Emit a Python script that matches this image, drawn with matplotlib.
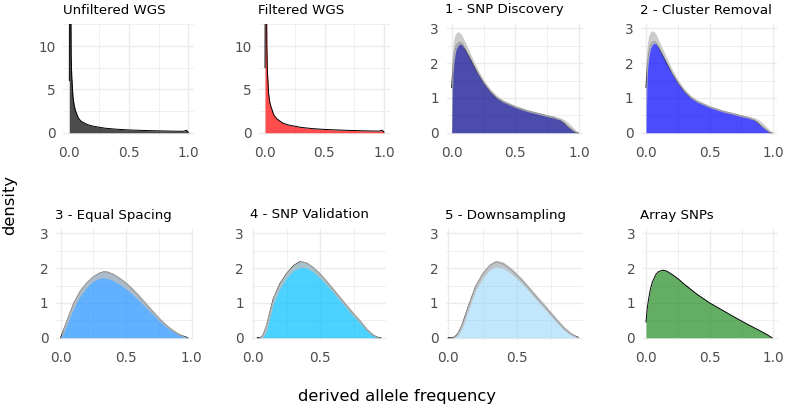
import matplotlib
matplotlib.use("Agg")
import matplotlib.pyplot as plt
import numpy as np

W, H = 787, 412

# ---- data (density curves) ----
x_wgs = [0, 0.003, 0.006, 0.01, 0.015, 0.02, 0.03, 0.04, 0.05, 0.075, 0.1, 0.15, 0.2,
         0.3, 0.4, 0.5, 0.6, 0.7, 0.8, 0.9, 0.95, 0.97, 0.98, 0.99, 1.0]
unfiltered = [6, 30, 40, 20, 9, 6.5, 4.2, 3.2, 2.6, 1.7, 1.3, 0.95, 0.75,
              0.52, 0.4, 0.32, 0.27, 0.23, 0.2, 0.17, 0.16, 0.2, 0.28, 0.22, 0.05]
filtered = [7.5, 32, 42, 22, 10, 7.0, 4.5, 3.5, 3.0, 2.0, 1.6, 1.1, 0.88,
            0.62, 0.47, 0.38, 0.32, 0.27, 0.23, 0.2, 0.18, 0.22, 0.3, 0.24, 0.06]

x_disc = [0, 0.01, 0.02, 0.035, 0.05, 0.065, 0.08, 0.1, 0.15, 0.2, 0.25, 0.3, 0.35, 0.4,
          0.5, 0.6, 0.7, 0.75, 0.8, 0.85, 0.88, 0.9, 0.93, 0.96, 0.98, 0.99]
discovery = [1.3, 1.9, 2.25, 2.5, 2.58, 2.6, 2.57, 2.45, 2.1, 1.75, 1.45, 1.2, 1.02, 0.9,
             0.74, 0.62, 0.53, 0.48, 0.44, 0.37, 0.29, 0.22, 0.13, 0.04, 0.0, 0.0]
discovery_lo = [0, 1.7, 2.1, 2.4, 2.5, 2.55, 2.52, 2.42, 2.08, 1.72, 1.42, 1.18, 1.0, 0.88,
                0.72, 0.6, 0.51, 0.46, 0.42, 0.36, 0.28, 0.2, 0.11, 0.03, 0.0, 0.0]
discovery_hi = [2.0, 2.5, 2.75, 2.87, 2.9, 2.87, 2.8, 2.65, 2.25, 1.85, 1.52, 1.27, 1.08, 0.95,
                0.78, 0.66, 0.56, 0.51, 0.48, 0.43, 0.38, 0.33, 0.23, 0.12, 0.05, 0.0]
cluster = [1.3, 1.92, 2.27, 2.52, 2.6, 2.62, 2.58, 2.46, 2.1, 1.75, 1.45, 1.2, 1.02, 0.9,
           0.74, 0.62, 0.53, 0.48, 0.44, 0.37, 0.29, 0.22, 0.13, 0.04, 0.0, 0.0]
cluster_lo = [0, 1.7, 2.1, 2.42, 2.52, 2.57, 2.54, 2.43, 2.08, 1.72, 1.42, 1.18, 1.0, 0.88,
              0.72, 0.6, 0.51, 0.46, 0.42, 0.36, 0.28, 0.2, 0.11, 0.03, 0.0, 0.0]
cluster_hi = [2.0, 2.52, 2.78, 2.9, 2.93, 2.9, 2.82, 2.66, 2.26, 1.86, 1.53, 1.27, 1.08, 0.95,
              0.78, 0.66, 0.56, 0.51, 0.48, 0.43, 0.38, 0.33, 0.23, 0.12, 0.05, 0.0]

x_equal = [0, 0.02, 0.05, 0.1, 0.15, 0.2, 0.25, 0.3, 0.33, 0.36, 0.4, 0.45, 0.5, 0.55,
           0.6, 0.65, 0.7, 0.75, 0.8, 0.85, 0.9, 0.93, 0.95, 0.97]
equal = [0, 0.2, 0.5, 0.99, 1.34, 1.57, 1.75, 1.86, 1.89, 1.88, 1.82, 1.7, 1.56, 1.38,
         1.18, 0.97, 0.76, 0.55, 0.37, 0.22, 0.1, 0.05, 0.03, 0.0]
equal_lo = [0, 0.12, 0.4, 0.85, 1.2, 1.45, 1.63, 1.71, 1.72, 1.7, 1.64, 1.53, 1.4, 1.24,
            1.06, 0.87, 0.68, 0.49, 0.32, 0.19, 0.08, 0.03, 0.01, 0.0]
equal_hi = [0.02, 0.3, 0.62, 1.08, 1.42, 1.64, 1.8, 1.9, 1.92, 1.91, 1.85, 1.74, 1.6, 1.43,
            1.23, 1.02, 0.81, 0.6, 0.41, 0.26, 0.13, 0.07, 0.04, 0.01]

x_valid = [0.03, 0.05, 0.07, 0.1, 0.125, 0.15, 0.2, 0.25, 0.3, 0.35, 0.4, 0.45, 0.5, 0.55,
           0.6, 0.65, 0.7, 0.75, 0.8, 0.85, 0.88, 0.9, 0.93, 0.95]
validation = [0, 0.0, 0.05, 0.35, 0.75, 1.13, 1.56, 1.85, 2.07, 2.19, 2.14, 2.0, 1.82, 1.6,
              1.37, 1.13, 0.9, 0.67, 0.46, 0.22, 0.12, 0.06, 0.01, 0]
validation_lo = [0, 0, 0.0, 0.2, 0.6, 0.98, 1.42, 1.72, 1.93, 2.02, 2.0, 1.88, 1.7, 1.5,
                 1.28, 1.05, 0.82, 0.6, 0.4, 0.18, 0.09, 0.04, 0.0, 0]
validation_hi = [0, 0.03, 0.15, 0.5, 0.88, 1.22, 1.62, 1.9, 2.1, 2.22, 2.18, 2.04, 1.86, 1.64,
                 1.41, 1.18, 0.95, 0.72, 0.5, 0.27, 0.16, 0.09, 0.03, 0.01]

x_down = [0.0, 0.03, 0.05, 0.075, 0.1, 0.125, 0.15, 0.2, 0.25, 0.3, 0.35, 0.4, 0.45, 0.5,
          0.55, 0.6, 0.65, 0.7, 0.75, 0.8, 0.85, 0.9, 0.93, 0.95]
downsampling = [0, 0.0, 0.03, 0.15, 0.36, 0.65, 0.94, 1.47, 1.82, 2.06, 2.18, 2.12, 1.98, 1.8,
                1.6, 1.37, 1.14, 0.92, 0.69, 0.46, 0.25, 0.1, 0.04, 0.01]
downsampling_lo = [0, 0, 0.0, 0.08, 0.26, 0.53, 0.82, 1.35, 1.7, 1.94, 2.04, 2.0, 1.87, 1.7,
                   1.5, 1.28, 1.05, 0.84, 0.62, 0.4, 0.2, 0.06, 0.02, 0]
downsampling_hi = [0.01, 0.02, 0.07, 0.22, 0.45, 0.75, 1.04, 1.56, 1.9, 2.13, 2.23, 2.18, 2.04, 1.86,
                   1.66, 1.43, 1.2, 0.98, 0.75, 0.52, 0.31, 0.14, 0.06, 0.02]

x_array = [0, 0.01, 0.02, 0.035, 0.05, 0.08, 0.1, 0.13, 0.16, 0.2, 0.25, 0.3, 0.4, 0.5,
           0.6, 0.7, 0.8, 0.9, 0.95, 0.98, 0.99]
array_snps = [0.45, 0.85, 1.1, 1.4, 1.6, 1.83, 1.9, 1.94, 1.92, 1.83, 1.7, 1.54, 1.25, 1.0,
              0.79, 0.58, 0.38, 0.19, 0.09, 0.02, 0.0]

titles = ["Unfiltered WGS", "Filtered WGS", "1 - SNP Discovery", "2 - Cluster Removal",
          "3 - Equal Spacing", "4 - SNP Validation", "5 - Downsampling", "Array SNPs"]
x_tick_labels = ["0.0", "0.5", "1.0"]

# ---- layout (pixels) ----
panels = [
    (titles[0], x_wgs, unfiltered, None, None, "#000000", 0.7, 63.4, 194.2, 24, 135,
     (-0.05, 1.05), (-0.265, 12.54), [0, 5, 10], [2.5, 7.5, 12.5], 63),
    (titles[1], x_wgs, filtered, None, None, "#FF0000", 0.7, 259.1, 389.9, 24, 135,
     (-0.05, 1.05), (-0.265, 12.54), [0, 5, 10], [2.5, 7.5, 12.5], 258),
    (titles[2], x_disc, discovery, discovery_lo, discovery_hi, "#00008B", 0.7, 446.6, 583.1, 24, 135,
     (-0.04, 1.03), (-0.066, 3.124), [0, 1, 2, 3], [0.5, 1.5, 2.5], 445),
    (titles[3], x_disc, cluster, cluster_lo, cluster_hi, "#0000FF", 0.7, 640.9, 777.1, 24, 135,
     (-0.04, 1.03), (-0.066, 3.124), [0, 1, 2, 3], [0.5, 1.5, 2.5], 640),
    (titles[4], x_equal, equal, equal_lo, equal_hi, "#1E90FF", 0.7, 56.1, 193.0, 229, 340,
     (-0.035, 1.01), (-0.066, 3.124), [0, 1, 2, 3], [0.5, 1.5, 2.5], 55),
    (titles[5], x_valid, validation, validation_lo, validation_hi, "#00BFFF", 0.7, 251.7, 386.0, 229, 340,
     (-0.012, 0.99), (-0.066, 3.124), [0, 1, 2, 3], [0.5, 1.5, 2.5], 250),
    (titles[6], x_down, downsampling, downsampling_lo, downsampling_hi, "#87CEFA", 0.5, 446.0, 583.3, 229, 340,
     (-0.017, 0.986), (-0.066, 3.124), [0, 1, 2, 3], [0.5, 1.5, 2.5], 445),
    (titles[7], x_array, array_snps, None, None, "#228B22", 0.7, 642.8, 777.8, 229, 340,
     (-0.025, 1.035), (-0.066, 3.124), [0, 1, 2, 3], [0.5, 1.5, 2.5], 640),
]

plt.rcParams['font.family'] = ['DejaVu Sans']
fig = plt.figure(figsize=(W / 100, H / 100), dpi=100)
fig.patch.set_facecolor("white")

grid_col = "#EBEBEB"
tick_col = "#4D4D4D"

for (title, xs, ys, lo, hi, col, alpha, left, right, top, bottom,
     xlim, ylim, ymaj, ymin, tx) in panels:
    ax = fig.add_axes([left / W, 1 - bottom / H, (right - left) / W, (bottom - top) / H])
    ax.set_xlim(*xlim)
    ax.set_ylim(*ylim)
    for s in ax.spines.values():
        s.set_visible(False)
    ax.set_facecolor("white")
    xmaj = [v for v in [0.0, 0.5, 1.0] if xlim[0] <= v <= xlim[1]]
    ax.set_xticks(xmaj)
    ax.set_xticklabels(x_tick_labels[:len(xmaj)])
    ax.set_xticks([v for v in [0.25, 0.75] if xlim[0] <= v <= xlim[1]], minor=True)
    ax.set_yticks(ymaj)
    ax.set_yticklabels([str(v) for v in ymaj])
    ax.set_yticks(ymin, minor=True)
    ax.tick_params(which="both", length=0)
    ax.tick_params(axis="x", pad=8.0, labelsize=9.8, labelcolor=tick_col)
    ax.tick_params(axis="y", pad=5.5, labelsize=9.8, labelcolor=tick_col)
    ax.grid(which="major", color=grid_col, lw=1.0)
    ax.grid(which="minor", color=grid_col, lw=0.55)
    ax.set_axisbelow(True)

    ax.fill_between(xs, 0, ys, color=col, alpha=alpha, lw=0, zorder=2)
    ax.plot(xs, ys, color="black", lw=0.7, zorder=3)
    if lo is not None:
        ax.fill_between(xs, lo, hi, color="#BEBEBE", alpha=0.8, lw=0, zorder=4)

    fig.text(tx / W, 1 - (top - 14) / H, title, fontsize=9.6, color="black",
             ha="left", va="center")

fig.text(397.5 / W, 1 - 396 / H, "derived allele frequency", fontsize=11.8,
         ha="center", va="center", color="black")
fig.text(10 / W, 1 - 205 / H, "density", fontsize=11.8, rotation=90,
         ha="center", va="center", color="black")

fig.savefig("out.png", dpi=100, facecolor="white")
